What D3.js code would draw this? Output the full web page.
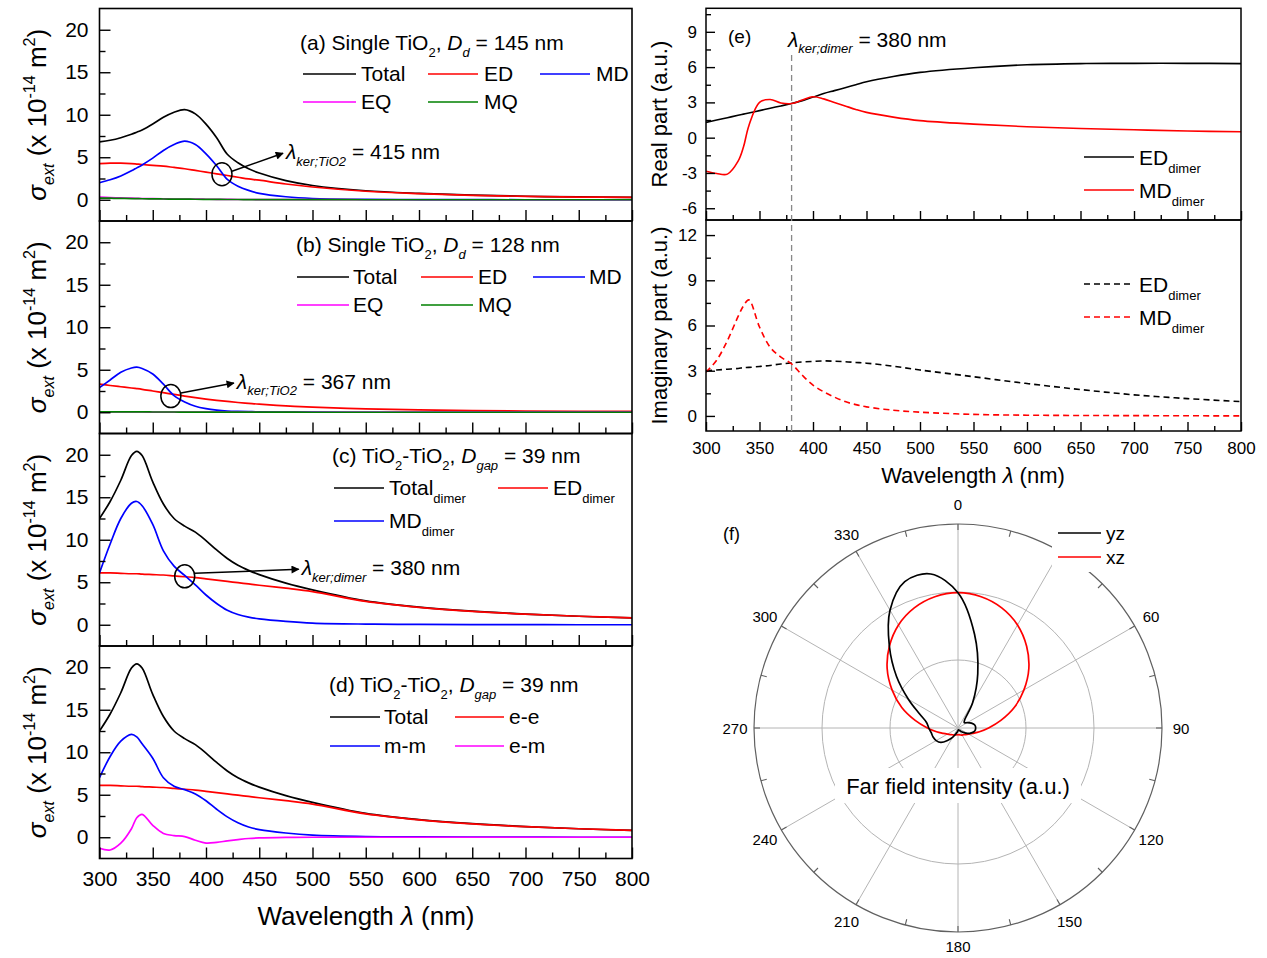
<!DOCTYPE html>
<html><head><meta charset="utf-8">
<script src="https://cdn.jsdelivr.net/npm/d3@7"></script>
<style>
body{margin:0;background:#fff}
svg{display:block}
text{font-family:"Liberation Sans",Arial,Helvetica,sans-serif;white-space:pre}
</style>
</head><body>
<svg id="c" width="1267" height="958"></svg>
<script>
// ---------------- DATA ----------------
const wavelengths = [300,310,320,330,335,340,350,360,370,380,390,400,410,420,430,440,450,475,500,550,600,650,700,750,800];

// (a) single TiO2, D = 145 nm
const aTotal = [6.8,7.0,7.3,7.7,7.95,8.2,8.9,9.7,10.3,10.6,10.1,8.9,7.3,5.35,4.35,3.65,3.15,2.25,1.68,1.06,0.75,0.54,0.41,0.33,0.28];
const aED    = [4.25,4.3,4.3,4.25,4.2,4.15,4.05,3.95,3.8,3.65,3.45,3.25,3.05,2.85,2.65,2.45,2.3,1.85,1.5,1.0,0.72,0.52,0.4,0.32,0.27];
const aMD    = [2.0,2.35,2.8,3.4,3.75,4.1,4.9,5.8,6.5,6.9,6.5,5.4,4.0,2.4,1.6,1.1,0.75,0.35,0.15,0.05,0.02,0.01,0,0,0];
const aEQ    = [0.3,0.26,0.22,0.18,0.16,0.15,0.13,0.11,0.09,0.08,0.07,0.06,0.05,0.04,0.03,0.03,0.02,0.01,0.01,0,0,0,0,0,0];
const aMQ    = [0.2,0.18,0.16,0.14,0.13,0.12,0.1,0.09,0.08,0.07,0.06,0.05,0.04,0.03,0.03,0.02,0.02,0.01,0.01,0,0,0,0,0,0];

// (b) single TiO2, D = 128 nm
const bED = [3.3,3.15,3.0,2.85,2.78,2.7,2.5,2.3,2.1,1.9,1.72,1.55,1.4,1.27,1.15,1.05,0.95,0.75,0.6,0.4,0.28,0.2,0.15,0.12,0.1];
const bMD = [2.9,3.8,4.7,5.2,5.3,5.15,4.5,3.3,1.95,1.2,0.7,0.42,0.25,0.15,0.1,0.07,0.05,0.02,0.01,0,0,0,0,0,0];
const bEQ = [0.04,0.04,0.03,0.03,0.03,0.03,0.02,0.02,0.02,0.02,0.01,0.01,0.01,0.01,0.01,0.01,0,0,0,0,0,0,0,0,0];
const bMQ = [0.06,0.05,0.05,0.04,0.04,0.04,0.03,0.03,0.03,0.02,0.02,0.02,0.02,0.01,0.01,0.01,0.01,0.01,0,0,0,0,0,0,0];

// (c)/(d) TiO2-TiO2 dimer, gap = 39 nm
const dimerTotal = [12.5,14.5,17.0,19.9,20.4,19.9,16.8,14.2,12.5,11.6,10.9,9.9,8.8,7.8,7.0,6.4,5.9,4.9,4.1,2.8,2.08,1.6,1.26,1.0,0.8];
const dimerED    = [6.1,6.1,6.05,6.0,6.0,5.95,5.9,5.85,5.75,5.65,5.55,5.4,5.25,5.1,4.95,4.8,4.65,4.3,3.9,2.75,2.05,1.58,1.25,1.0,0.8];
const dimerMD    = [6.1,9.5,12.5,14.3,14.5,14.0,11.8,8.7,6.9,5.8,4.7,3.5,2.5,1.7,1.2,0.9,0.7,0.4,0.2,0.08,0.04,0.02,0.01,0,0];
const dimerMM    = [7.0,9.5,11.3,12.1,11.8,11.0,9.3,7.0,6.0,5.6,5.1,4.3,3.3,2.4,1.7,1.2,0.9,0.5,0.25,0.08,0.04,0.02,0.01,0,0];
const dimerEM    = [-1.3,-1.5,-0.7,1.0,2.3,2.7,1.4,0.45,0.2,0.08,-0.35,-0.68,-0.6,-0.43,-0.28,-0.15,-0.08,-0.02,0,0,0,0,0,0,0];

// (e) polarizability real / imaginary parts
const eEDreal = [1.3,1.5,1.7,1.9,2.0,2.1,2.3,2.5,2.7,2.9,3.15,3.45,3.75,4.0,4.25,4.5,4.75,5.2,5.55,5.95,6.2,6.3,6.32,6.32,6.3];
const eMDreal = [-2.85,-3.05,-3.1,-2.0,-0.8,1.0,3.0,3.25,2.95,2.9,3.2,3.48,3.3,3.0,2.7,2.4,2.15,1.75,1.45,1.15,0.93,0.78,0.67,0.57,0.5];
const eEDimag = [3.0,3.05,3.1,3.15,3.2,3.22,3.28,3.35,3.45,3.52,3.58,3.62,3.65,3.63,3.6,3.55,3.5,3.3,3.05,2.6,2.15,1.75,1.4,1.15,0.95];
const eMDimag = [2.9,3.7,5.0,6.6,7.3,7.7,5.9,4.55,3.9,3.45,2.7,2.05,1.6,1.25,0.95,0.75,0.6,0.38,0.25,0.1,0.05,0.03,0.02,0.01,0];

// (f) far-field polar pattern (angle in degrees, clockwise from top)
const polarAngles = [0,10,20,30,40,50,60,70,80,90,100,110,120,130,140,150,160,170,180,190,200,210,220,230,240,250,260,270,280,290,300,310,320,330,340,350];
const fYZ = [1.99,1.40,0.85,0.43,0.15,0.12,0.16,0.21,0.25,0.26,0.25,0.21,0.16,0.10,0.06,0.04,0.03,0.03,0.04,0.06,0.09,0.16,0.24,0.33,0.37,0.39,0.40,0.43,0.47,0.60,0.84,1.18,1.57,2.00,2.29,2.30];
const fXZ = [1.99,1.96,1.88,1.75,1.57,1.36,1.12,0.88,0.64,0.45,0.32,0.23,0.18,0.15,0.13,0.12,0.11,0.10,0.10,0.10,0.11,0.12,0.13,0.15,0.18,0.23,0.32,0.45,0.64,0.88,1.12,1.36,1.57,1.75,1.88,1.96];

// tick labels
const xMajor = [300,350,400,450,500,550,600,650,700,750,800];
const xMinor = [325,375,425,475,525,575,625,675,725,775];
const yMajorLeft = [0,5,10,15,20];
const yMinorLeft = [2.5,7.5,12.5,17.5];
const yMajorReal = [-6,-3,0,3,6,9];
const yMinorReal = [-4.5,-1.5,1.5,4.5,7.5,10.5];
const yMajorImag = [0,3,6,9,12];
const yMinorImag = [1.5,4.5,7.5,10.5];
const angleLabels = [0,60,90,120,150,180,210,240,270,300,330];
const angleTicks = [0,15,30,45,60,75,90,105,120,135,150,165,180,195,210,225,240,255,270,285,300,315,330,345];

// ---------------- HELPERS ----------------
const svg = d3.select('#c');
const COL = {k:'#000000', r:'#ff0000', b:'#0000ff', m:'#ff00ff', g:'#008000'};
const fmt = d => String(d);

const defs = svg.append('defs');
defs.append('marker').attr('id','arr').attr('viewBox','0 0 10 10').attr('refX',9).attr('refY',5)
  .attr('markerWidth',11).attr('markerHeight',8).attr('markerUnits','userSpaceOnUse').attr('orient','auto')
  .append('path').attr('d','M0,0 L10,5 L0,10 Z').attr('fill','#000');

function rich(sel, x, y, parts, size, opts) {
  opts = opts || {};
  const t = sel.append('text').attr('x',x).attr('y',y).attr('font-size',size).attr('fill','#000');
  if (opts.anchor) t.attr('text-anchor', opts.anchor);
  if (opts.transform) t.attr('transform', opts.transform);
  let cur = 0;
  parts.forEach(p => {
    let off = 0, fs = size;
    if (p.sub) { off = size*(p.off!=null?p.off:0.32); fs = size*(p.sc||0.62); }
    if (p.sup) { off = -size*0.42; fs = size*0.62; }
    const ts = t.append('tspan').attr('dy', (off-cur).toFixed(2)).attr('font-size', fs.toFixed(2)).text(p.t);
    if (p.it) ts.attr('font-style','italic');
    cur = off;
  });
  return t;
}

function styleAxis(g, fs) {
  g.select('.domain').remove();
  g.selectAll('.tick line').attr('stroke','#000').attr('stroke-width',1.4);
  g.selectAll('.tick text').attr('font-size',fs).attr('fill','#000')
    .attr('font-family','"Liberation Sans",Arial,sans-serif');
  g.attr('font-family',null).attr('font-size',null);
}

// ---------------- LEFT PANELS (a)-(d) ----------------
const L = {x0:99.5, x1:632, h:212.5, tops:[8.5,221,433.5,646]};
const xL = d3.scaleLinear().domain([300,800]).range([L.x0, L.x1]);

function leftPanel(idx, series, showLabels) {
  const top = L.tops[idx], bot = top + L.h;
  const y = d3.scaleLinear().domain([-2.5,22.5]).range([bot, top]);
  const g = svg.append('g');
  const cid = 'clipL'+idx;
  defs.append('clipPath').attr('id',cid).append('rect')
    .attr('x',L.x0).attr('y',top).attr('width',L.x1-L.x0).attr('height',L.h);
  const line = d3.line().x((d,i)=>xL(wavelengths[i])).y(d=>y(d)).curve(d3.curveCatmullRom.alpha(0.5));
  const lg = g.append('g').attr('clip-path',`url(#${cid})`);
  series.forEach(s => {
    lg.append('path').datum(s.data).attr('d',line).attr('fill','none')
      .attr('stroke',s.color).attr('stroke-width',1.7).attr('stroke-linejoin','round');
  });
  const ya = g.append('g').attr('transform',`translate(${L.x0},0)`)
    .call(d3.axisLeft(y).tickValues(yMajorLeft).tickSizeInner(-11).tickSizeOuter(0).tickPadding(11).tickFormat(fmt));
  styleAxis(ya, 21);
  const ym = g.append('g').attr('transform',`translate(${L.x0},0)`)
    .call(d3.axisLeft(y).tickValues(yMinorLeft).tickSizeInner(-6).tickSizeOuter(0).tickFormat(''));
  styleAxis(ym, 21);
  const xa = g.append('g').attr('transform',`translate(0,${bot})`)
    .call(d3.axisBottom(xL).tickValues(xMajor).tickSizeInner(-11).tickSizeOuter(0).tickPadding(13)
      .tickFormat(showLabels ? fmt : ''));
  styleAxis(xa, 21);
  const xm = g.append('g').attr('transform',`translate(0,${bot})`)
    .call(d3.axisBottom(xL).tickValues(xMinor).tickSizeInner(-6).tickSizeOuter(0).tickFormat(''));
  styleAxis(xm, 21);
  g.append('rect').attr('x',L.x0).attr('y',top).attr('width',L.x1-L.x0).attr('height',L.h)
    .attr('fill','none').attr('stroke','#000').attr('stroke-width',1.6);
  const cy = top + L.h/2;
  rich(g, 0, 0, [
    {t:'σ', it:true},{t:'ext', sub:true, it:true, off:0.3},{t:' (x 10'},{t:'-14', sup:true},{t:' m'},{t:'2', sup:true},{t:')'}
  ], 26, {anchor:'middle', transform:`translate(46,${cy}) rotate(-90)`});
  return {g, y};
}

function legendLine(g, x1, x2, yy, color, dash) {
  const l = g.append('line').attr('x1',x1).attr('x2',x2).attr('y1',yy).attr('y2',yy)
    .attr('stroke',color).attr('stroke-width',1.7);
  if (dash) l.attr('stroke-dasharray',dash);
}

function annotation(g, y, lam, val, dx, dy, label, lamText) {
  const cx = xL(lam), cyy = y(val);
  g.append('ellipse').attr('cx',cx).attr('cy',cyy).attr('rx',10).attr('ry',11.5)
    .attr('fill','none').attr('stroke','#000').attr('stroke-width',1.5);
  g.append('line').attr('x1',cx+10).attr('y1',cyy-3).attr('x2',cx+dx).attr('y2',cyy+dy)
    .attr('stroke','#000').attr('stroke-width',1.5).attr('marker-end','url(#arr)');
  rich(g, cx+dx+3, cyy+dy+6, [{t:'λ', it:true},{t:label, sub:true, it:true, off:0.3},{t:' = '+lamText+' nm'}], 21);
}

// (a)
{
  const {g, y} = leftPanel(0, [
    {data:aTotal, color:COL.k},{data:aED, color:COL.r},{data:aMD, color:COL.b},
    {data:aEQ, color:COL.m},{data:aMQ, color:COL.g}], false);
  rich(g, 300, 50, [{t:'(a) Single TiO'},{t:'2', sub:true},{t:', '},{t:'D', it:true},{t:'d', sub:true, it:true},{t:' = 145 nm'}], 21);
  legendLine(g,303,356,74,COL.k); rich(g,361,81,[{t:'Total'}],21);
  legendLine(g,428,478,74,COL.r); rich(g,484,81,[{t:'ED'}],21);
  legendLine(g,540,590,74,COL.b); rich(g,596,81,[{t:'MD'}],21);
  legendLine(g,303,356,102,COL.m); rich(g,361,109,[{t:'EQ'}],21);
  legendLine(g,428,478,102,COL.g); rich(g,484,109,[{t:'MQ'}],21);
  annotation(g, y, 415, 3.0, 61, -21, 'ker;TiO2', '415');
}
// (b)
{
  const {g, y} = leftPanel(1, [
    {data:bED, color:COL.r},{data:bMD, color:COL.b},
    {data:bEQ, color:COL.m},{data:bMQ, color:COL.g}], false);
  rich(g, 296, 252, [{t:'(b) Single TiO'},{t:'2', sub:true},{t:', '},{t:'D', it:true},{t:'d', sub:true, it:true},{t:' = 128 nm'}], 21);
  legendLine(g,297,349,277,COL.k); rich(g,353,284,[{t:'Total'}],21);
  legendLine(g,421,473,277,COL.r); rich(g,478,284,[{t:'ED'}],21);
  legendLine(g,533,585,277,COL.b); rich(g,589,284,[{t:'MD'}],21);
  legendLine(g,297,349,305,COL.m); rich(g,353,312,[{t:'EQ'}],21);
  legendLine(g,421,473,305,COL.g); rich(g,478,312,[{t:'MQ'}],21);
  annotation(g, y, 367, 1.9, 63, -13, 'ker;TiO2', '367');
}
// (c)
{
  const {g, y} = leftPanel(2, [
    {data:dimerTotal, color:COL.k},{data:dimerED, color:COL.r},{data:dimerMD, color:COL.b}], false);
  rich(g, 332, 463, [{t:'(c) TiO'},{t:'2', sub:true},{t:'-TiO'},{t:'2', sub:true},{t:', '},{t:'D', it:true},{t:'gap', sub:true, it:true},{t:' = 39 nm'}], 21);
  legendLine(g,334,384,488,COL.k); rich(g,389,495,[{t:'Total'},{t:'dimer', sub:true, off:0.38}],21);
  legendLine(g,498,548,488,COL.r); rich(g,553,495,[{t:'ED'},{t:'dimer', sub:true, off:0.38}],21);
  legendLine(g,334,384,521,COL.b); rich(g,389,528,[{t:'MD'},{t:'dimer', sub:true, off:0.38}],21);
  annotation(g, y, 380, 5.7, 114, -7, 'ker;dimer', '380');
}
// (d)
{
  const {g, y} = leftPanel(3, [
    {data:dimerTotal, color:COL.k},{data:dimerED, color:COL.r},{data:dimerMM, color:COL.b},{data:dimerEM, color:COL.m}], true);
  rich(g, 329, 692, [{t:'(d) TiO'},{t:'2', sub:true},{t:'-TiO'},{t:'2', sub:true},{t:', '},{t:'D', it:true},{t:'gap', sub:true, it:true},{t:' = 39 nm'}], 21);
  legendLine(g,330,380,717,COL.k); rich(g,384,724,[{t:'Total'}],21);
  legendLine(g,455,504,717,COL.r); rich(g,509,724,[{t:'e-e'}],21);
  legendLine(g,330,380,746,COL.b); rich(g,384,753,[{t:'m-m'}],21);
  legendLine(g,455,504,746,COL.m); rich(g,509,753,[{t:'e-m'}],21);
}
rich(svg, 366, 925, [{t:'Wavelength '},{t:'λ', it:true},{t:' (nm)'}], 26, {anchor:'middle'});

// ---------------- PANEL (e) ----------------
const E = {x0:706, x1:1241, t0:8.3, mid:220, b:431};
const xE = d3.scaleLinear().domain([300,800]).range([E.x0, E.x1]);
const yRe = d3.scaleLinear().domain([-7,11]).range([E.mid, E.t0]);
const yIm = d3.scaleLinear().domain([-1,13]).range([E.b, E.mid]);

function ePanel(y, top, bot, major, minor, series, showLabels, title) {
  const g = svg.append('g');
  const cid = 'clipE'+Math.round(top);
  defs.append('clipPath').attr('id',cid).append('rect').attr('x',E.x0).attr('y',top).attr('width',E.x1-E.x0).attr('height',bot-top);
  const line = d3.line().x((d,i)=>xE(wavelengths[i])).y(d=>y(d)).curve(d3.curveCatmullRom.alpha(0.5));
  const lg = g.append('g').attr('clip-path',`url(#${cid})`);
  series.forEach(s => {
    const p = lg.append('path').datum(s.data).attr('d',line).attr('fill','none')
      .attr('stroke',s.color).attr('stroke-width',1.6);
    if (s.dash) p.attr('stroke-dasharray',s.dash);
  });
  const ya = g.append('g').attr('transform',`translate(${E.x0},0)`)
    .call(d3.axisLeft(y).tickValues(major).tickSizeInner(-9).tickSizeOuter(0).tickPadding(9).tickFormat(fmt));
  styleAxis(ya, 17);
  const ym = g.append('g').attr('transform',`translate(${E.x0},0)`)
    .call(d3.axisLeft(y).tickValues(minor).tickSizeInner(-5).tickSizeOuter(0).tickFormat(''));
  styleAxis(ym, 17);
  const xa = g.append('g').attr('transform',`translate(0,${bot})`)
    .call(d3.axisBottom(xE).tickValues(xMajor).tickSizeInner(-9).tickSizeOuter(0).tickPadding(11)
      .tickFormat(showLabels ? fmt : ''));
  styleAxis(xa, 17);
  const xm = g.append('g').attr('transform',`translate(0,${bot})`)
    .call(d3.axisBottom(xE).tickValues(xMinor).tickSizeInner(-5).tickSizeOuter(0).tickFormat(''));
  styleAxis(xm, 17);
  g.append('rect').attr('x',E.x0).attr('y',top).attr('width',E.x1-E.x0).attr('height',bot-top)
    .attr('fill','none').attr('stroke','#000').attr('stroke-width',1.5);
  rich(g, 0, 0, [{t:title}], 22, {anchor:'middle', transform:`translate(667,${(top+bot)/2}) rotate(-90)`});
  return g;
}
ePanel(yRe, E.t0, E.mid, yMajorReal, yMinorReal,
  [{data:eEDreal, color:COL.k},{data:eMDreal, color:COL.r}], false, 'Real part (a.u.)');
ePanel(yIm, E.mid, E.b, yMajorImag, yMinorImag,
  [{data:eEDimag, color:COL.k, dash:'6,4'},{data:eMDimag, color:COL.r, dash:'6,4'}], true, 'Imaginary part (a.u.)');
svg.append('line').attr('x1',xE(380)).attr('x2',xE(380)).attr('y1',55).attr('y2',E.b)
  .attr('stroke','#888').attr('stroke-width',1.3).attr('stroke-dasharray','6,4');
rich(svg, 728, 43, [{t:'(e)'}], 19);
rich(svg, 788, 47, [{t:'λ', it:true},{t:'ker;dimer', sub:true, it:true, off:0.3},{t:' = 380 nm'}], 21);
legendLine(svg,1084,1134,157,COL.k); rich(svg,1139,165,[{t:'ED'},{t:'dimer', sub:true, off:0.38}],21);
legendLine(svg,1084,1134,190,COL.r); rich(svg,1139,198,[{t:'MD'},{t:'dimer', sub:true, off:0.38}],21);
legendLine(svg,1084,1134,284,COL.k,'6,4'); rich(svg,1139,292,[{t:'ED'},{t:'dimer', sub:true, off:0.38}],21);
legendLine(svg,1084,1134,317,COL.r,'6,4'); rich(svg,1139,325,[{t:'MD'},{t:'dimer', sub:true, off:0.38}],21);
rich(svg, 973, 483, [{t:'Wavelength '},{t:'λ', it:true},{t:' (nm)'}], 22, {anchor:'middle'});

// ---------------- PANEL (f) polar ----------------
const P = {cx:958, cy:728};
const rS = d3.scaleLinear().domain([0,3]).range([0,204]);
const gp = svg.append('g').attr('transform',`translate(${P.cx},${P.cy})`);
const rad = a => a*Math.PI/180;
[1,2].forEach(v => gp.append('circle').attr('r',rS(v)).attr('fill','none').attr('stroke','#b4b4b4').attr('stroke-width',1));
d3.range(0,360,30).forEach(a => {
  gp.append('line').attr('x1',0).attr('y1',0)
    .attr('x2',rS(3)*Math.sin(rad(a))).attr('y2',-rS(3)*Math.cos(rad(a)))
    .attr('stroke','#b4b4b4').attr('stroke-width',1);
});
gp.append('circle').attr('r',rS(3)).attr('fill','none').attr('stroke','#606060').attr('stroke-width',1.2);
angleTicks.forEach(a => {
  const R = rS(3);
  gp.append('line').attr('x1',R*Math.sin(rad(a))).attr('y1',-R*Math.cos(rad(a)))
    .attr('x2',(R-6)*Math.sin(rad(a))).attr('y2',-(R-6)*Math.cos(rad(a)))
    .attr('stroke','#606060').attr('stroke-width',1.1);
});
angleLabels.forEach(a => {
  const lr = (a===0) ? 224 : (a===180 ? 218 : 223);
  gp.append('text').attr('x',lr*Math.sin(rad(a))).attr('y',-lr*Math.cos(rad(a)))
    .attr('text-anchor','middle').attr('dominant-baseline','central').attr('font-size',15).attr('fill','#000').text(a);
});
gp.append('rect').attr('x',-123).attr('y',40).attr('width',246).attr('height',35).attr('fill','#fff');
gp.append('text').attr('x',0).attr('y',66).attr('text-anchor','middle').attr('font-size',22).attr('fill','#000')
  .text('Far field intensity (a.u.)');
const radial = d3.lineRadial().angle((d,i)=>rad(polarAngles[i])).radius(d=>rS(d)).curve(d3.curveCatmullRomClosed.alpha(0.5));
gp.append('path').datum(fXZ).attr('d',radial).attr('fill','none').attr('stroke',COL.r).attr('stroke-width',1.7);
gp.append('path').datum(fYZ).attr('d',radial).attr('fill','none').attr('stroke',COL.k).attr('stroke-width',1.7);
svg.append('rect').attr('x',1052).attr('y',516).attr('width',80).attr('height',56).attr('fill','#fff');
legendLine(svg,1058,1101,533,COL.k); rich(svg,1106,540,[{t:'yz'}],19);
legendLine(svg,1058,1101,557,COL.r); rich(svg,1106,564,[{t:'xz'}],19);
rich(svg, 723, 540, [{t:'(f)'}], 18);
</script>
</body></html>
